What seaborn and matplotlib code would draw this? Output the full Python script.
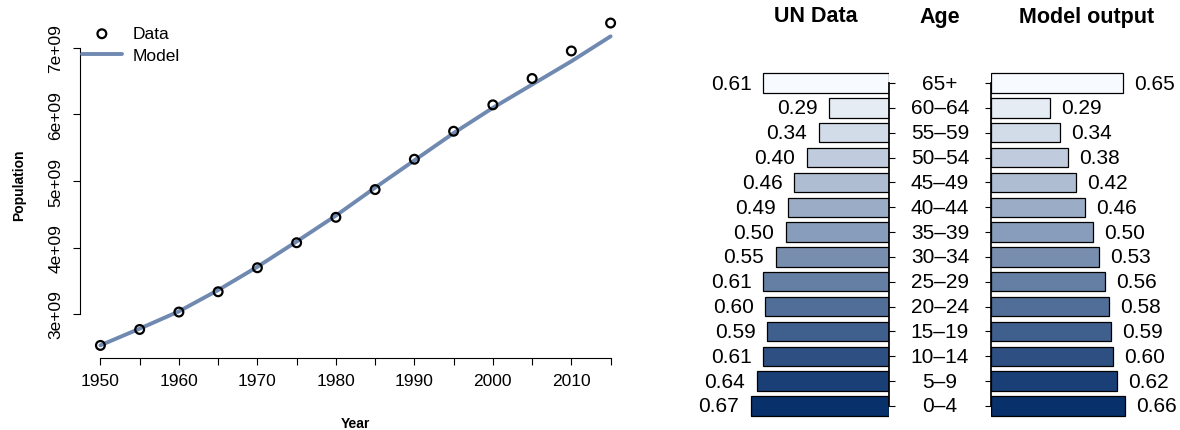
import matplotlib
matplotlib.use("Agg")
import matplotlib.pyplot as plt
import matplotlib.transforms as mtransforms
import seaborn as sns
import pandas as pd

sns.set_theme(style="white")
plt.rcParams["font.family"] = ["Liberation Sans", "DejaVu Sans"]
plt.rcParams.update({"text.color": "black", "axes.labelcolor": "black",
                     "xtick.color": "black", "ytick.color": "black"})

# --- data ------------------------------------------------------------------
years = [1950, 1955, 1960, 1965, 1970, 1975, 1980, 1985, 1990, 1995, 2000, 2005, 2010, 2015]
pop_data = [2.528, 2.768, 3.03, 3.335, 3.696, 4.072, 4.454, 4.871, 5.327, 5.748, 6.145, 6.541, 6.955, 7.375]
pop_model = [2.53, 2.78, 3.04, 3.36, 3.71, 4.09, 4.48, 4.90, 5.31, 5.72, 6.10, 6.45, 6.80, 7.175]

ages = ["65+", "60–64", "55–59", "50–54", "45–49", "40–44", "35–39",
        "30–34", "25–29", "20–24", "15–19", "10–14", "5–9", "0–4"]
un_share = [0.61, 0.29, 0.34, 0.40, 0.46, 0.49, 0.50, 0.55, 0.61, 0.60, 0.59, 0.61, 0.64, 0.67]
model_share = [0.65, 0.29, 0.34, 0.38, 0.42, 0.46, 0.50, 0.53, 0.56, 0.58, 0.59, 0.60, 0.62, 0.66]

W, H = 1180, 431
fig = plt.figure(figsize=(W / 100, H / 100), dpi=100)

def box(x0, y0, x1, y1):
    # pixel box (top-left origin) -> figure fraction rect
    return [x0 / W, 1 - y1 / H, (x1 - x0) / W, (y1 - y0) / H]

# ===========================================================================
# LEFT — population over time
# ===========================================================================
ts = pd.DataFrame({"year": years, "data": [v * 1e9 for v in pop_data],
                   "model": [v * 1e9 for v in pop_model]})
ax = fig.add_axes(box(80, 10.8, 631, 358.8))
line_col = "#7089B1"
sns.lineplot(data=ts, x="year", y="model", ax=ax, color=line_col, lw=2.8, label="Model")
sns.scatterplot(data=ts, x="year", y="data", ax=ax, s=40, facecolor="none",
                edgecolor="black", linewidth=1.6, label="Data", zorder=3)
ax.set_xlim(1947.4, 2017.6)
ax.set_ylim(2.342e9, 7.574e9)
ax.set_xticks(range(1950, 2016, 5))
ax.set_xticklabels([str(y) if y % 10 == 0 else "" for y in range(1950, 2016, 5)], fontsize=12.5)
yt = [3e9, 4e9, 5e9, 6e9, 7e9]
ax.set_yticks(yt)
ax.set_yticklabels([f"{int(v / 1e9)}e+09" for v in yt], rotation=90, va="center", fontsize=12.5)
ax.tick_params(axis="both", direction="out", length=5, width=0.8, color="black",
               labelcolor="black", left=True, bottom=True)
ax.tick_params(axis="x", pad=6)
ax.tick_params(axis="y", pad=7)
for s in ["top", "right"]:
    ax.spines[s].set_visible(False)
for s in ["left", "bottom"]:
    ax.spines[s].set_color("black")
    ax.spines[s].set_linewidth(0.8)
ax.spines["left"].set_bounds(3e9, 7e9)
ax.spines["bottom"].set_bounds(1950, 2015)
ax.set_xlabel("Year", fontsize=10, fontweight="bold", labelpad=20)
ax.set_ylabel("Population", fontsize=10, fontweight="bold", labelpad=16)

h, l = ax.get_legend_handles_labels()
order = [l.index("Data"), l.index("Model")]
ax.legend([h[i] for i in order], [l[i] for i in order], loc="upper left",
          bbox_to_anchor=(-0.006, 0.968), frameon=False, fontsize=12.5, borderpad=0.3,
          borderaxespad=0, handlelength=2.3, handletextpad=0.6, labelspacing=0.4)

# ===========================================================================
# RIGHT — age structure, UN data vs model output
# ===========================================================================
pyr = pd.DataFrame({"age": ages, "un": un_share, "model": model_share})
pal = sns.blend_palette(["#F7FBFF", "#08306B"], len(ages))

axl = fig.add_axes(box(700, 71.6, 889, 419.4))
axr = fig.add_axes(box(990.7, 71.6, 1175, 419.4))

for a, col in [(axl, "un"), (axr, "model")]:
    sns.barplot(data=pyr, x=col, y="age", hue="age", palette=pal, order=ages,
                hue_order=ages, legend=False, width=0.78, edgecolor="black",
                linewidth=0.9, saturation=1, orient="h", ax=a)

axl.set_xlim(189 / 206, 0)
axr.set_xlim(0, 184.3 / 204)
for a in (axl, axr):
    a.set_ylim(13.5, -0.5)
    a.set_xlabel(""); a.set_ylabel("")
    a.set_xticks([])
    for s in a.spines.values():
        s.set_visible(False)
    a.tick_params(axis="y", direction="out", length=4, width=0.8, color="black")
    a.set_yticks(range(len(ages)))

axl.yaxis.tick_right()
axl.tick_params(axis="y", labelright=False, right=True)
axl.spines["right"].set_visible(True)
axl.spines["right"].set_bounds(0, len(ages) - 1)
axl.spines["right"].set_color("black")
axr.tick_params(axis="y", labelleft=False, left=True)
axr.spines["left"].set_visible(True)
axr.spines["left"].set_bounds(0, len(ages) - 1)
axr.spines["left"].set_color("black")

for i, v in enumerate(un_share):
    axl.annotate(f"{v:.2f}", (v, i), xytext=(-8.5, 0), textcoords="offset points",
                 ha="right", va="center", fontsize=15)
for i, v in enumerate(model_share):
    axr.annotate(f"{v:.2f}", (v, i), xytext=(8, 0), textcoords="offset points",
                 ha="left", va="center", fontsize=15)

tr = mtransforms.blended_transform_factory(fig.transFigure, axl.transData)
for i, a in enumerate(ages):
    axl.text(940 / W, i, a, transform=tr, ha="center", va="center", fontsize=15,
             clip_on=False)

for x, t in [(816, "UN Data"), (940, "Age"), (1087, "Model output")]:
    fig.text(x / W, 1 - 17 / H, t, ha="center", va="center", fontsize=15.5,
             fontweight="bold")

fig.savefig("out.png", dpi=100)
